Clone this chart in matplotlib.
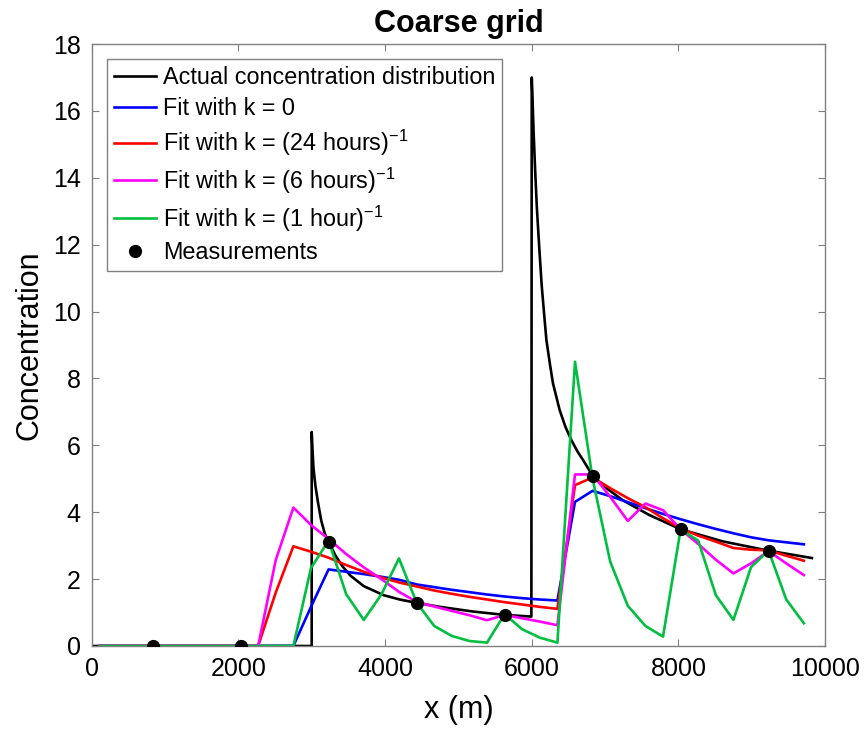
import matplotlib
matplotlib.use("Agg")
import matplotlib.pyplot as plt

plt.rcParams['font.family'] = ['Liberation Sans', 'DejaVu Sans']
plt.rcParams['mathtext.default'] = 'regular'

# coarse grid nodes (m)
x_nodes = [110, 350, 590, 830, 1070, 1310, 1550, 1790, 2030, 2270,
           2510, 2750, 2990, 3230, 3470, 3710, 3950, 4190, 4430, 4670,
           4910, 5150, 5390, 5630, 5870, 6110, 6350, 6590, 6830, 7070,
           7310, 7550, 7790, 8030, 8270, 8510, 8750, 8990, 9230, 9470, 9710]

fit_k0 = [0, 0, 0, 0, 0, 0, 0, 0, 0, 0, 0, 0,
          1.17, 2.29, 2.22, 2.15, 2.07, 1.98, 1.84, 1.76, 1.68, 1.61, 1.54,
          1.48, 1.43, 1.39, 1.36, 4.31, 4.64, 4.48, 4.30, 4.12, 3.95, 3.79,
          3.64, 3.50, 3.37, 3.25, 3.16, 3.10, 3.04]
fit_k24 = [0, 0, 0, 0, 0, 0, 0, 0, 0, 0,
           1.60, 2.98, 2.82, 2.64, 2.42, 2.22, 2.05, 1.90, 1.78, 1.66, 1.56,
           1.47, 1.39, 1.31, 1.24, 1.17, 1.11, 4.81, 5.04, 4.72, 4.42, 4.15,
           3.82, 3.52, 3.30, 3.12, 2.93, 2.88, 2.86, 2.70, 2.55]
fit_k6 = [0, 0, 0, 0, 0, 0, 0, 0, 0, 0,
          2.57, 4.14, 3.62, 3.20, 2.75, 2.35, 2.00, 1.62, 1.32, 1.18, 1.05,
          0.92, 0.77, 0.93, 0.83, 0.73, 0.62, 5.13, 5.13, 4.46, 3.74, 4.26,
          4.06, 3.49, 3.05, 2.58, 2.17, 2.47, 2.84, 2.47, 2.12]
fit_k1 = [0, 0, 0, 0, 0, 0, 0, 0, 0, 0, 0, 0,
          2.33, 3.15, 1.55, 0.78, 1.54, 2.62, 1.30, 0.60, 0.30, 0.15, 0.10,
          0.95, 0.50, 0.25, 0.10, 8.50, 5.00, 2.52, 1.20, 0.60, 0.28, 3.49,
          3.15, 1.52, 0.78, 2.36, 2.85, 1.39, 0.68]

# actual distribution (two sources at 3000 m and 6000 m)
x_actual = [0, 3000, 3000, 3010, 3025, 3050, 3085, 3130, 3180, 3230, 3320,
            3420, 3530, 3710, 3980, 4200, 4430, 4750, 5200, 5630, 5995,
            6000, 6010, 6025, 6045, 6070, 6100, 6135, 6170, 6200, 6250,
            6290, 6380, 6460, 6540, 6620, 6700, 6830, 7000, 7240, 7600,
            8030, 8600, 9230, 9820]
c_actual = [0, 0, 6.4, 5.9, 5.3, 4.8, 4.3, 3.75, 3.35, 3.12, 2.72,
            2.38, 2.10, 1.79, 1.52, 1.39, 1.29, 1.17, 1.03, 0.93, 0.88,
            17.0, 16.4, 15.4, 14.3, 13.1, 12.0, 10.8, 9.9, 9.15, 8.4,
            7.85, 7.06, 6.55, 6.16, 5.83, 5.56, 5.09, 4.75, 4.36, 3.92,
            3.49, 3.13, 2.85, 2.63]

x_meas = [830, 2030, 3230, 4430, 5630, 6830, 8030, 9230]
c_meas = [0, 0, 3.12, 1.29, 0.93, 5.09, 3.49, 2.85]

fig = plt.figure(figsize=(8.68, 7.34), dpi=100)
ax = fig.add_axes([0.1056, 0.1199, 0.845, 0.8201])

lw = 1.9
ax.plot(x_actual, c_actual, color='k', lw=lw, label='Actual concentration distribution')
ax.plot(x_nodes, fit_k0, color='#0000ff', lw=lw, label='Fit with k = 0')
ax.plot(x_nodes, fit_k24, color='#ff0000', lw=lw, label='Fit with k = (24 hours)$^{-1}$')
ax.plot(x_nodes, fit_k6, color='#ff00ff', lw=lw, label='Fit with k = (6 hours)$^{-1}$')
ax.plot(x_nodes, fit_k1, color='#00bf40', lw=lw, label='Fit with k = (1 hour)$^{-1}$')
ax.plot(x_meas, c_meas, 'o', color='k', ms=8.5, label='Measurements', zorder=5)

ax.set_xlim(0, 10000)
ax.set_ylim(0, 18)
ax.set_xticks([0, 2000, 4000, 6000, 8000, 10000])
ax.set_yticks(range(0, 19, 2))
ax.tick_params(direction='in', top=True, right=True, labelsize=18, length=5,
               color='#808080')
ax.tick_params(axis='x', pad=8)
ax.tick_params(axis='y', pad=8)
for s in ax.spines.values():
    s.set_color('#808080')
    s.set_linewidth(1.0)

ax.set_xlabel('x (m)', fontsize=22, labelpad=10)
ax.set_ylabel('Concentration', fontsize=22, labelpad=6)
ax.set_title('Coarse grid', fontsize=22, fontweight='bold', pad=9)

leg = ax.legend(loc='upper left', fontsize=16.8, fancybox=False, framealpha=1,
                edgecolor='#808080', handlelength=1.8, handletextpad=0.3,
                labelspacing=0.33, borderpad=0.3, borderaxespad=0.65)
leg.get_frame().set_linewidth(1.0)

fig.savefig('out.png', dpi=100)
